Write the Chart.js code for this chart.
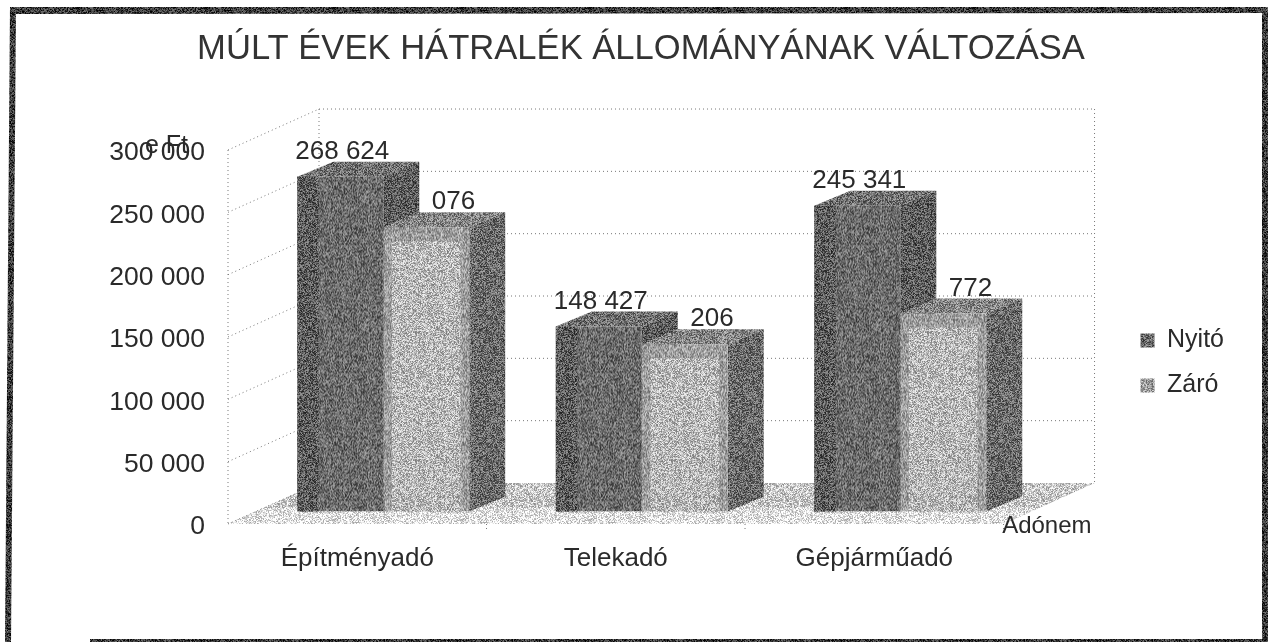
<!DOCTYPE html>
<html lang="hu">
<head>
<meta charset="utf-8">
<title>Múlt évek hátralék állományának változása</title>
<script src="https://cdn.jsdelivr.net/npm/chart.js@4"></script>
<style>
  html, body { margin: 0; padding: 0; background: #fff; }
  canvas { display: block; }
</style>
</head>
<body>
<canvas id="chart" width="1268" height="642"></canvas>
<script>
const titleText = 'MÚLT ÉVEK HÁTRALÉK ÁLLOMÁNYÁNAK VÁLTOZÁSA';
const categories = ['Építményadó', 'Telekadó', 'Gépjárműadó'];
const seriesNames = ['Nyitó', 'Záró'];
const nyitoValues = [268624, 148427, 245341];
const zaroValues = [228076, 134206, 158772];
const unitLabel = 'e Ft';
const xAxisName = 'Adónem';

const FONT = '"Liberation Sans", Arial, sans-serif';
const TEXT = '#2a2a2a';

// 3D look: offset of the bar front from the axis plane, depth of the bars, depth of the box
const barShift = { x: 26, y: -12.5 };
const barDepth = { x: 36, y: -15 };
const boxDepth = { x: 91, y: -41 };

// scanned look: grey speckle, same tile every time
function speckle(gray) {
    const size = 128;
    const c = document.createElement('canvas');
    c.width = c.height = size;
    const g = c.getContext('2d');
    const img = g.createImageData(size, size);
    for (let y = 0; y < size; y++) {
        for (let x = 0; x < size; x++) {
            const h = Math.sin(x * 12.9898 + y * 78.233) * 43758.5453;
            const v = 255 * gray + (h - Math.floor(h) - 0.5) * 120;
            const i = (y * size + x) * 4;
            img.data[i] = img.data[i + 1] = img.data[i + 2] = v;
            img.data[i + 3] = 255;
        }
    }
    g.putImageData(img, 0, 0);
    return g.createPattern(c, 'repeat');
}
const tone = {};
function shade(gray) {
    if (!tone[gray]) tone[gray] = speckle(gray);
    return tone[gray];
}

function fmt(v) {
    return String(v).replace(/\B(?=(\d{3})+$)/g, ' ');
}

function poly(ctx, pts, fill) {
    ctx.beginPath();
    pts.forEach((p, i) => i ? ctx.lineTo(p[0], p[1]) : ctx.moveTo(p[0], p[1]));
    ctx.closePath();
    ctx.fillStyle = fill;
    ctx.fill();
}

function line(ctx, x1, y1, x2, y2) {
    ctx.beginPath();
    ctx.moveTo(x1, y1);
    ctx.lineTo(x2, y2);
    ctx.stroke();
}

function drawBox(chart) {
    const ctx = chart.ctx;
    const a = chart.chartArea;
    const yS = chart.scales.y;
    const dx = boxDepth.x, dy = boxDepth.y;
    poly(ctx, [[a.left, a.bottom], [a.left + dx, a.bottom + dy], [a.right + dx, a.bottom + dy], [a.right, a.bottom]], shade(0.78));
    poly(ctx, [[a.left, a.bottom], [a.left + dx * 0.4, a.bottom + dy * 0.4], [a.right + dx * 0.4, a.bottom + dy * 0.4], [a.right, a.bottom]], shade(0.88));
    ctx.save();
    ctx.strokeStyle = '#777';
    ctx.lineWidth = 1;
    ctx.setLineDash([1, 3]);
    yS.ticks.forEach(t => {
        const y = yS.getPixelForValue(t.value);
        line(ctx, a.left, y, a.left + dx, y + dy);
        if (t.value > 0) line(ctx, a.left + dx, y + dy, a.right + dx, y + dy);
    });
    line(ctx, a.left, a.top, a.left, a.bottom);
    line(ctx, a.left + dx, a.top + dy, a.left + dx, a.bottom + dy);
    line(ctx, a.right + dx, a.top + dy, a.right + dx, a.bottom + dy);
    chart.scales.x.ticks.forEach((t, i) => {
        const x = a.left + (a.right - a.left) * (i + 1) / categories.length;
        line(ctx, x, a.bottom, x, a.bottom + 6);
    });
    ctx.restore();
}

function barSides(chart, index) {
    const ctx = chart.ctx;
    const dark = index === 0;
    chart.getDatasetMeta(index).data.forEach(el => {
        const l = el.x - el.width / 2 + barShift.x;
        const r = el.x + el.width / 2 + barShift.x;
        const t = el.y + barShift.y;
        const b = el.base + barShift.y;
        const dx = barDepth.x, dy = barDepth.y;
        poly(ctx, [[r, t], [r + dx, t + dy], [r + dx, b + dy], [r, b]], shade(dark ? 0.36 : 0.42));
        poly(ctx, [[l, t], [l + dx, t + dy], [r + dx, t + dy], [r, t]], shade(dark ? 0.44 : 0.52));
    });
}

// lighter middle on the Záró fronts, darker on the left of Nyitó
function barFronts(chart, index) {
    const ctx = chart.ctx;
    chart.getDatasetMeta(index).data.forEach(el => {
        const l = el.x - el.width / 2 + barShift.x;
        const r = el.x + el.width / 2 + barShift.x;
        const t = el.y + barShift.y;
        const b = el.base + barShift.y;
        const w = r - l;
        if (index === 1) {
            ctx.fillStyle = shade(0.72);
            ctx.fillRect(l + w * 0.1, t + 14, w * 0.8, b - t - 14);
        } else {
            ctx.fillStyle = shade(0.36);
            ctx.fillRect(l, t, w * 0.25, b - t);
        }
    });
}

function barLabels(chart, index) {
    const ctx = chart.ctx;
    const values = index === 0 ? nyitoValues : zaroValues;
    const front = chart.getDatasetMeta(0).data;
    chart.getDatasetMeta(index).data.forEach((el, i) => {
        ctx.save();
        ctx.font = '26px ' + FONT;
        ctx.fillStyle = TEXT;
        ctx.textAlign = 'center';
        ctx.textBaseline = 'middle';
        if (index === 1) {
            // the start of a Záró label is hidden by the Nyitó bar beside it
            const hide = front[i].x + front[i].width / 2 + barShift.x + barDepth.x + 10;
            ctx.beginPath();
            ctx.rect(hide, 0, chart.width - hide, chart.height);
            ctx.clip();
        }
        ctx.fillText(fmt(values[i]), el.x + barShift.x + 2, el.y + barShift.y - 25);
        ctx.restore();
    });
}

function drawFrame(chart) {
    const ctx = chart.ctx;
    const dark = shade(0.22);
    poly(ctx, [[10, 7], [1268, 7], [1268, 13], [16, 14]], dark);
    poly(ctx, [[10, 7], [16, 7], [11, 642], [5, 642]], dark);
    poly(ctx, [[1262, 7], [1268, 7], [1268, 642], [1262, 642]], dark);
    poly(ctx, [[90, 639], [1268, 639], [1268, 642], [90, 642]], dark);
}

const box3d = {
    id: 'box3d',
    afterLayout(chart) {
        // legend block sits lower than the default centre
        chart.legend.top += 42;
        chart.legend.bottom += 42;
    },
    beforeDatasetsDraw(chart) {
        drawBox(chart);
        // Záró labels and the Nyitó sides sit behind the Záró bars
        barLabels(chart, 1);
        barSides(chart, 0);
    },
    beforeDatasetDraw(chart, args) {
        if (args.index === 1) barSides(chart, 1);
        chart.ctx.save();
        chart.ctx.translate(barShift.x, barShift.y);
    },
    afterDatasetDraw(chart, args) {
        chart.ctx.restore();
        barFronts(chart, args.index);
    },
    afterDatasetsDraw(chart) {
        const ctx = chart.ctx;
        const a = chart.chartArea;
        barLabels(chart, 0);
        ctx.save();
        ctx.fillStyle = TEXT;
        ctx.textBaseline = 'alphabetic';
        ctx.font = '25px ' + FONT;
        ctx.fillText(unitLabel, 145, 153);
        ctx.font = '24px ' + FONT;
        ctx.textAlign = 'right';
        ctx.fillText(xAxisName, a.right + boxDepth.x - 3, a.bottom + 9);
        ctx.restore();
        drawFrame(chart);
    }
};

new Chart(document.getElementById('chart'), {
    type: 'bar',
    data: {
        labels: categories,
        datasets: [
            { label: seriesNames[0], data: nyitoValues, backgroundColor: shade(0.42) },
            { label: seriesNames[1], data: zaroValues, backgroundColor: shade(0.62) }
        ]
    },
    plugins: [box3d],
    options: {
        responsive: false,
        animation: false,
        layout: { padding: { left: 48, top: 10, right: 34, bottom: 10 } },
        datasets: { bar: { barPercentage: 1, categoryPercentage: 0.665 } },
        plugins: {
            title: {
                display: true,
                text: titleText,
                color: '#333',
                font: { family: FONT, size: 34.6, weight: 'normal' },
                padding: { top: 19, bottom: 79.5 }
            },
            legend: {
                position: 'right',
                labels: {
                    color: TEXT,
                    font: { family: FONT, size: 25 },
                    boxWidth: 14,
                    boxHeight: 14,
                    padding: 20
                }
            },
            tooltip: { enabled: false }
        },
        scales: {
            x: {
                grid: { display: false },
                border: { display: false },
                ticks: { color: TEXT, font: { family: FONT, size: 26 }, padding: 11, maxRotation: 0 },
                afterFit(s) { s.height = 108; }
            },
            y: {
                min: 0,
                max: 300000,
                grid: { display: false },
                border: { display: false },
                ticks: { stepSize: 50000, color: TEXT, font: { family: FONT, size: 26.5 }, padding: 15, labelOffset: 3, callback: v => fmt(v) },
                afterFit(s) { s.width = 180; }
            },
            // empty axis: keeps the gap between the box and the legend
            gap: {
                position: 'right',
                display: true,
                grid: { display: false },
                border: { display: false },
                ticks: { display: false },
                afterFit(s) { s.width = 117; }
            }
        }
    }
});
</script>
</body>
</html>
